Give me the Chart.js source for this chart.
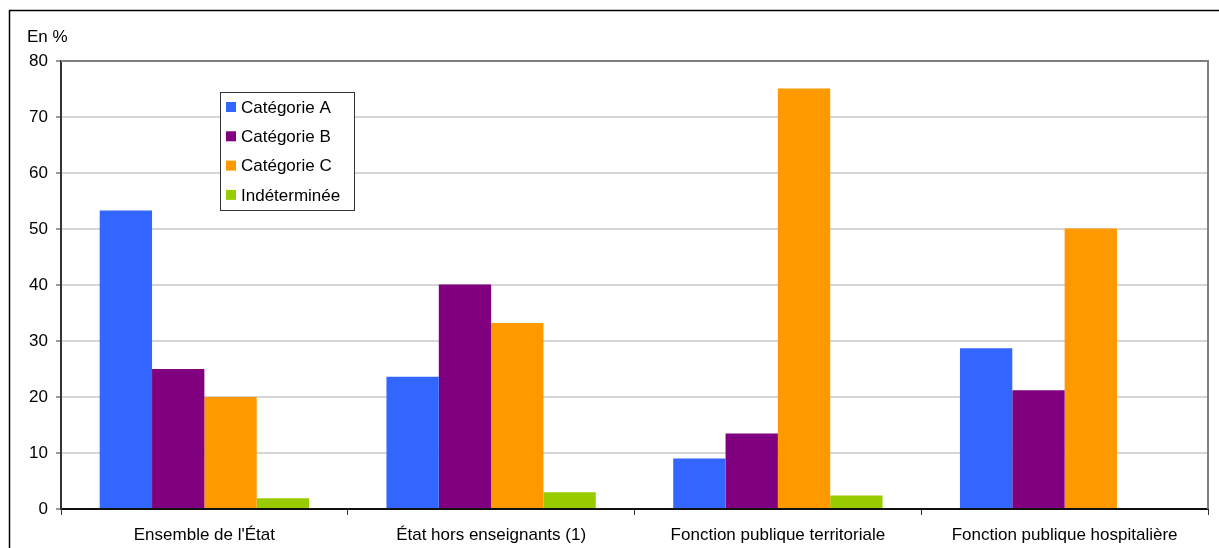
<!DOCTYPE html>
<html>
<head>
<meta charset="utf-8">
<script src="https://cdn.jsdelivr.net/npm/chart.js@4/dist/chart.umd.min.js"></script>
<style>
  html, body { margin: 0; padding: 0; background: #fff; }
  #wrap { width: 1219px; height: 548px; }
</style>
</head>
<body>
<div id="wrap"><canvas id="chart" width="1219" height="548"></canvas></div>
<script>
const categories = ["Ensemble de l'État", "État hors enseignants (1)", "Fonction publique territoriale", "Fonction publique hospitalière"];
const seriesNames = ["Catégorie A", "Catégorie B", "Catégorie C", "Indéterminée"];
const catA = [53.3, 23.6, 9.0, 28.7];
const catB = [25.0, 40.1, 13.5, 21.2];
const catC = [20.0, 33.2, 75.1, 50.1];
const indet = [1.9, 3.0, 2.4, 0];
const colors = ['#3366ff', '#800080', '#ff9900', '#99cc00'];

const FONT = "'Liberation Sans', Arial, sans-serif";
const FS = 17;

// cadre extérieur, bordure de la zone de tracé, "En %" et légende dans le graphique
const decor = {
  id: 'decor',
  afterDraw(chart) {
    const { ctx, chartArea: a } = chart;
    ctx.save();
    // plot border top + right
    ctx.strokeStyle = '#808080';
    ctx.lineWidth = 2;
    ctx.beginPath();
    ctx.moveTo(a.left, a.top);
    ctx.lineTo(a.right, a.top);
    ctx.lineTo(a.right, a.bottom);
    ctx.stroke();
    // outer frame
    ctx.strokeStyle = '#000';
    ctx.lineWidth = 1.5;
    ctx.strokeRect(9.5, 10.5, 1230, 560);
    // unit label
    ctx.fillStyle = '#000';
    ctx.font = FS + 'px ' + FONT;
    ctx.textBaseline = 'middle';
    ctx.textAlign = 'left';
    ctx.fillText('En %', 27, 37);
    // legend
    const lx = 220, ly = 92, lw = 134, lh = 118;
    ctx.fillStyle = '#fff';
    ctx.fillRect(lx, ly, lw, lh);
    ctx.strokeStyle = '#333';
    ctx.lineWidth = 1;
    ctx.strokeRect(lx + 0.5, ly + 0.5, lw, lh);
    chart.data.datasets.forEach((ds, i) => {
      const cy = ly + 15 + i * 29.3;
      ctx.fillStyle = ds.backgroundColor;
      ctx.fillRect(lx + 6, cy - 5, 10, 10);
      ctx.fillStyle = '#000';
      ctx.fillText(ds.label, lx + 21, cy + 1);
    });
    ctx.restore();
  }
};

new Chart(document.getElementById('chart'), {
  type: 'bar',
  data: {
    labels: categories,
    datasets: [catA, catB, catC, indet].map((d, i) => ({
      label: seriesNames[i],
      data: d,
      backgroundColor: colors[i],
      borderWidth: 0
    }))
  },
  options: {
    responsive: false,
    animation: false,
    layout: { padding: { top: 61, right: 11, left: 0, bottom: 0 } },
    categoryPercentage: 0.73,
    barPercentage: 1.0,
    plugins: {
      legend: { display: false },
      tooltip: { enabled: false }
    },
    scales: {
      x: {
        offset: true,
        grid: {
          offset: true,
          drawOnChartArea: false,
          tickLength: 6,
          tickColor: '#333',
          tickWidth: 1
        },
        border: { color: '#111', width: 2 },
        ticks: { color: '#000', font: { family: FONT, size: FS }, padding: 10, maxRotation: 0 },
        afterFit(scale) { scale.height = 39; }
      },
      y: {
        min: 0,
        max: 80,
        ticks: { stepSize: 10, color: '#000', font: { family: FONT, size: FS }, padding: 8 },
        grid: {
          color: '#d6d6d6',
          lineWidth: 2,
          tickLength: 5,
          tickColor: '#333',
          tickWidth: 1
        },
        border: { color: '#333', width: 2 },
        afterFit(scale) { scale.width = 61; }
      }
    }
  },
  plugins: [decor]
});
</script>
</body>
</html>
